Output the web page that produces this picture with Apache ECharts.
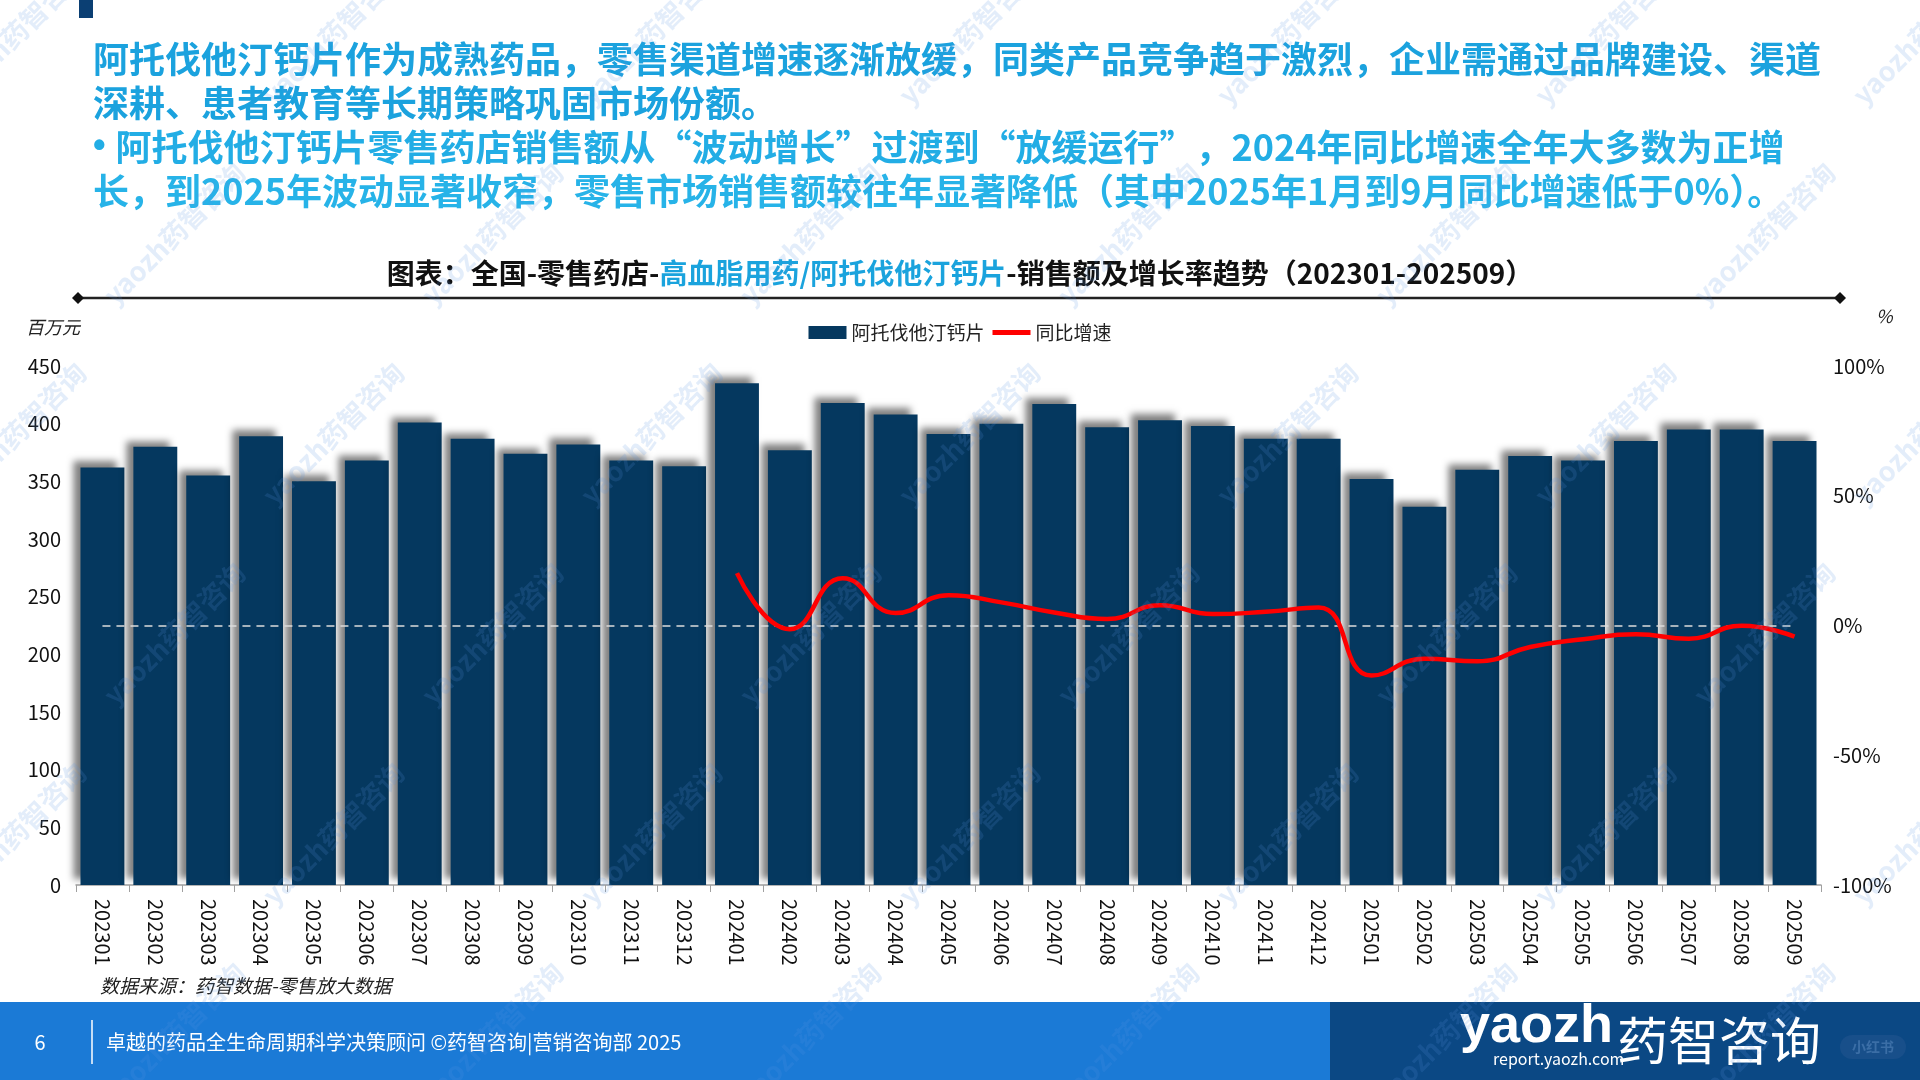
<!DOCTYPE html>
<html>
<head>
<meta charset="utf-8">
<title>阿托伐他汀钙片 零售药店销售额及增长率趋势</title>
<script src="https://cdn.jsdelivr.net/npm/echarts@6/dist/echarts.min.js"></script>
<style>
  html, body { margin: 0; padding: 0; background: #fff; }
  #main { width: 1920px; height: 1080px; }
</style>
</head>
<body>
<div id="main"></div>
<script>
// 月份（x 轴）
const months = [
  '202301', '202302', '202303', '202304', '202305', '202306', '202307', '202308', '202309', '202310', '202311', '202312',
  '202401', '202402', '202403', '202404', '202405', '202406', '202407', '202408', '202409', '202410', '202411', '202412',
  '202501', '202502', '202503', '202504', '202505', '202506', '202507', '202508', '202509'
];
// 阿托伐他汀钙片 销售额（百万元）
const salesValues = [
  362, 380, 355, 389, 350, 368, 401, 387, 374, 382, 368, 363,
  435, 377, 418, 408, 391, 400, 417, 397, 403, 398, 387, 387,
  352, 328, 360, 372, 368, 385, 395, 395, 385
];
// 同比增速（%），2023 年没有同比
const growthValues = [
  '-', '-', '-', '-', '-', '-', '-', '-', '-', '-', '-', '-',
  20.2, -1.4, 18.2, 4.8, 11.7, 8.9, 5.0, 2.5, 7.8, 4.4, 5.3, 6.9,
  -19.3, -12.8, -13.8, -8.3, -5.3, -3.4, -5.1, -0.1, -4.3
];
// 轴刻度
const leftTicks = [0, 50, 100, 150, 200, 250, 300, 350, 400, 450];
const rightTicks = [-100, -50, 0, 50, 100];

// 顶部说明文字
const headlineLines = [
  '阿托伐他汀钙片作为成熟药品，零售渠道增速逐渐放缓，同类产品竞争趋于激烈，企业需通过品牌建设、渠道',
  '深耕、患者教育等长期策略巩固市场份额。',
  '{d|•}阿托伐他汀钙片零售药店销售额从“波动增长”过渡到“放缓运行”，2024年同比增速全年大多数为正增',
  '长，到2025年波动显著收窄，零售市场销售额较往年显著降低（其中2025年1月到9月同比增速低于0%）。'
];

const FONT = '"Noto Sans CJK SC", "Noto Sans", sans-serif';
const chart = echarts.init(document.getElementById('main'));

// 说明文字
const headColors = ['#1ba2de', '#1ba2de', '#22ade5', '#27b3e8'];
const headlineEls = headlineLines.map((t, i) => ({
  type: 'text',
  x: 93,
  y: 59 + i * 44,
  style: {
    text: t,
    font: 'bold 36px ' + FONT,
    fill: headColors[i],
    textVerticalAlign: 'middle',
    rich: {
      d: { fontFamily: '"Liberation Sans", sans-serif', fontWeight: 'bold', fontSize: 36, color: headColors[i], padding: [0, 10, 0, 0] }
    }
  }
}));

// 水印
const watermarkEls = [];
for (let r = 0; r < 6; r++) {
  for (let c = 0; c < 7; c++) {
    watermarkEls.push({
      type: 'text',
      x: c * 318 - 60 + (r % 2) * 159,
      y: r * 200 + 90,
      rotation: Math.PI / 4,
      silent: true,
      z: 100,
      style: {
        text: 'yaozh药智咨询',
        font: 'bold 27px ' + FONT,
        fill: 'rgba(90,150,225,0.17)'
      }
    });
  }
}

const option = {
  backgroundColor: '#fff',
  textStyle: { fontFamily: FONT },
  title: {
    left: 'center',
    top: 254,
    text: '{a|图表：全国-零售药店-}{b|高血脂用药/阿托伐他汀钙片}{a|-销售额及增长率趋势（202301-202509）}',
    textStyle: {
      rich: {
        a: { fontSize: 28, fontWeight: 'bold', color: '#111', fontFamily: FONT },
        b: { fontSize: 28, fontWeight: 'bold', color: '#1aa3dd', fontFamily: FONT }
      }
    }
  },
  legend: {
    top: 318,
    left: 'center',
    itemWidth: 38,
    itemHeight: 13,
    itemGap: 8,
    textStyle: { fontSize: 19, color: '#222' },
    data: [
      { name: '阿托伐他汀钙片', icon: 'rect' },
      { name: '同比增速', icon: 'path://M0,0 L38,0 L38,5 L0,5 Z' }
    ]
  },
  grid: { left: 76, right: 99, top: 366, bottom: 195 },
  xAxis: {
    type: 'category',
    data: months,
    axisLine: { lineStyle: { color: '#a0a0a0', width: 1.5 } },
    axisTick: { show: true, length: 7, lineStyle: { color: '#a0a0a0' } },
    axisLabel: { rotate: -90, fontSize: 20, color: '#111', margin: 14 }
  },
  yAxis: [
    {
      type: 'value',
      min: leftTicks[0],
      max: leftTicks[leftTicks.length - 1],
      interval: leftTicks[1] - leftTicks[0],
      name: '百万元',
      nameGap: 30,
      nameTextStyle: { fontSize: 18, fontStyle: 'italic', color: '#222', align: 'right', padding: [0, -4, 0, 0] },
      axisLine: { show: false },
      axisTick: { show: false },
      splitLine: { show: false },
      axisLabel: { fontSize: 20, color: '#111', margin: 15 }
    },
    {
      type: 'value',
      min: rightTicks[0],
      max: rightTicks[rightTicks.length - 1],
      interval: rightTicks[1] - rightTicks[0],
      axisLine: { show: false },
      axisTick: { show: false },
      splitLine: { show: false },
      axisLabel: { fontSize: 20, color: '#111', margin: 12, formatter: '{value}%' }
    }
  ],
  series: [
    {
      name: '阿托伐他汀钙片',
      type: 'bar',
      data: salesValues,
      barCategoryGap: '17%',
      itemStyle: {
        color: '#05385f',
        shadowColor: 'rgba(0,0,0,0.5)',
        shadowBlur: 7,
        shadowOffsetX: -7,
        shadowOffsetY: -6
      }
    },
    {
      name: '同比增速',
      type: 'line',
      yAxisIndex: 1,
      data: growthValues,
      smooth: 0.5,
      symbol: 'none',
      lineStyle: { color: '#ff0000', width: 4.5 },
      itemStyle: { color: '#ff0000' },
      z: 5,
      markLine: {
        silent: true,
        symbol: 'none',
        label: { show: false },
        lineStyle: { color: '#dcdcdc', type: [8, 6], width: 1.6 },
        data: [[{ coord: [months[0], 0] }, { coord: [months[months.length - 1], 0] }]]
      }
    }
  ],
  graphic: [
    // 左上角小色块
    { type: 'rect', shape: { x: 79, y: 0, width: 14, height: 18 }, style: { fill: '#0b3f73' } },
    ...headlineEls,
    // 标题下方横线及两端菱形
    { type: 'line', shape: { x1: 78, y1: 298, x2: 1840, y2: 298 }, style: { stroke: '#222', lineWidth: 2.5 } },
    { type: 'polygon', shape: { points: [[72, 298], [78, 292], [84, 298], [78, 304]] }, style: { fill: '#111' } },
    { type: 'polygon', shape: { points: [[1834, 298], [1840, 292], [1846, 298], [1840, 304]] }, style: { fill: '#111' } },
    // 右轴单位
    { type: 'text', x: 1876, y: 316, style: { text: '%', font: 'italic 18px ' + FONT, fill: '#222', textVerticalAlign: 'middle' } },
    // 数据来源
    { type: 'text', x: 100, y: 986, style: { text: '数据来源：药智数据-零售放大数据', font: 'italic 19px ' + FONT, fill: '#222', textVerticalAlign: 'middle' } },
    // 页脚
    { type: 'rect', shape: { x: 0, y: 1002, width: 1330, height: 78 }, style: { fill: '#1b7ad6' } },
    { type: 'rect', shape: { x: 1330, y: 1002, width: 590, height: 78 }, style: { fill: '#0b4884' } },
    { type: 'text', x: 40, y: 1042, style: { text: '6', font: '20px ' + FONT, fill: '#fff', textAlign: 'center', textVerticalAlign: 'middle' } },
    { type: 'line', shape: { x1: 92, y1: 1020, x2: 92, y2: 1064 }, style: { stroke: '#fff', lineWidth: 1.5 } },
    { type: 'text', x: 106, y: 1042, style: { text: '卓越的药品全生命周期科学决策顾问 ©药智咨询|营销咨询部 2025', font: '20px ' + FONT, fill: '#fff', textVerticalAlign: 'middle' } },
    { type: 'text', x: 1460, y: 1027, style: { text: 'yaozh', font: 'bold 54px "Liberation Sans", sans-serif', fill: '#fff', textVerticalAlign: 'middle' } },
    { type: 'text', x: 1617, y: 1041, style: { text: '药智咨询', font: '51px ' + FONT, fill: '#fff', textVerticalAlign: 'middle' } },
    { type: 'text', x: 1493, y: 1059, style: { text: 'report.yaozh.com', font: '16px ' + FONT, fill: '#fff', textVerticalAlign: 'middle' } },
    { type: 'rect', shape: { x: 1840, y: 1035, width: 66, height: 24, r: 12 }, style: { fill: '#184f8a' } },
    { type: 'text', x: 1873, y: 1047, style: { text: '小红书', font: 'bold 14px ' + FONT, fill: '#3b6ea6', textAlign: 'center', textVerticalAlign: 'middle' } },
    ...watermarkEls
  ]
};

chart.setOption(option);
</script>
</body>
</html>
